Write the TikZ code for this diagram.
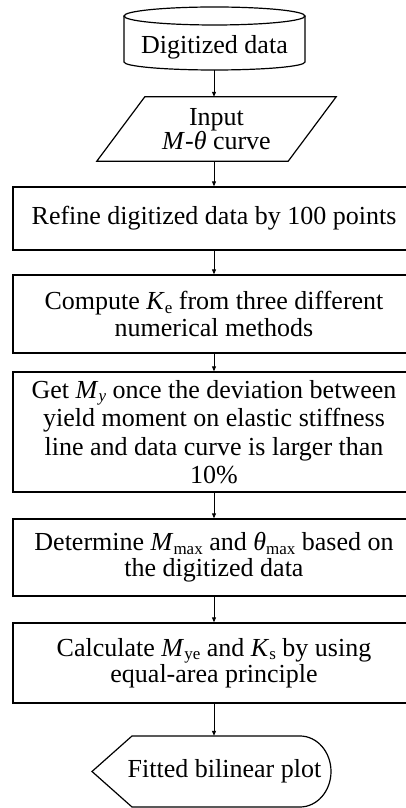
\documentclass[tikz,border=0pt]{standalone}
\usepackage{fontspec}
\setmainfont{Liberation Serif}
\usetikzlibrary{arrows.meta}
\newcommand\mysub[1]{\raisebox{-3.5pt}{\fontsize{17}{17}\selectfont #1}}
\begin{document}
\begin{tikzpicture}[x=1pt,y=1pt,
  every node/.style={inner sep=0pt, align=center},
  fA/.style={font=\fontsize{26}{23.5}\selectfont},
  fD/.style={font=\fontsize{26}{26}\selectfont},
  fB/.style={font=\fontsize{26}{27}\selectfont},
  fC/.style={font=\fontsize{26}{28.5}\selectfont},
  box/.style={draw, line width=1.3pt, minimum width=402pt},
  outline/.style={line width=1.2pt},
  arr/.style={line width=0.9pt, -{Triangle[length=5pt,width=4pt]}}
]
\useasboundingbox (0,0) rectangle (406,808);

% cylinder (data store)
\node[fA, minimum width=181pt, minimum height=45pt] (cyl) at (214.5,760.5) {Digitized data};
\draw[outline] (214.5,792) ellipse [x radius=90.5, y radius=9];
\draw[outline] (124,792) -- (124,746) arc[start angle=180, end angle=360, x radius=90.5, y radius=8] -- (305,792);

% input parallelogram
\node[fA, minimum width=191pt, minimum height=64pt] (in) at (216.5,679) {Input\\\textit{M}-\textit{θ} curve};
\draw[outline] ([xshift=24pt]in.north west) -- ([xshift=24pt]in.north east)
  -- ([xshift=-24pt]in.south east) -- ([xshift=-24pt]in.south west) -- cycle;

% process boxes
\node[box, fA, minimum height=63pt] (b1) at (214,589.5) {Refine digitized data by 100 points};
\node[box, fB, minimum height=78pt] (b2) at (214,494) {Compute \textit{K}\mysub{e} from three different\\numerical methods};
\node[box, fC, minimum height=120pt] (b3) at (214,376) {Get \textit{M}\mysub{\textit{y}} once the deviation between\\yield moment on elastic stiffness\\line and data curve is larger than\\10\%};
\node[box, fD, minimum height=77pt] (b4) at (214,250.5) {Determine \textit{M}\mysub{max} and \textit{θ}\mysub{max} based on\\the digitized data};
\node[box, fD, minimum height=80pt] (b5) at (214,145) {Calculate \textit{M}\mysub{ye} and \textit{K}\mysub{s} by using\\equal-area principle};

% display terminal
\node[fA, minimum width=168pt, minimum height=71pt] (term) at (224.5,36.5) {Fitted bilinear plot};
\draw[outline] (132,72) -- (300,72) arc[start angle=90, end angle=-90, x radius=31, y radius=35.5]
  -- (132,1) -- (92,36.5) -- cycle;

% connectors
\draw[arr] (cyl.south -| b1.north) -- (in.north -| b1.north);
\draw[arr] (in.south -| b1.north) -- (b1.north);
\draw[arr] (b1.south) -- (b2.north);
\draw[arr] (b2.south) -- (b3.north);
\draw[arr] (b3.south) -- (b4.north);
\draw[arr] (b4.south) -- (b5.north);
\draw[arr] (b5.south) -- (b5.south |- term.north);
\end{tikzpicture}
\end{document}
